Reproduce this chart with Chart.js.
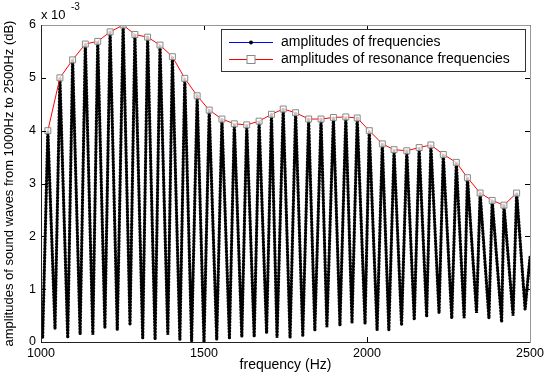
<!DOCTYPE html>
<html>
<head>
<meta charset="utf-8">
<script src="https://cdn.jsdelivr.net/npm/chart.js@4/dist/chart.umd.min.js"></script>
<style>
  html, body { margin: 0; padding: 0; background: #fff; }
</style>
</head>
<body>
<canvas id="myChart" width="550" height="379"></canvas>
<script>
// amplitudes are in units of 1e-3 (axis shows "x 10^-3")
// resonance peaks
const peakFreq = [1021, 1058, 1097, 1136, 1174, 1212, 1252, 1288, 1327, 1365,
                  1403, 1441, 1479, 1516, 1555, 1593, 1631, 1669, 1707, 1743,
                  1781, 1821, 1859, 1897, 1935, 1970, 2007, 2047, 2083, 2122,
                  2160, 2196, 2234, 2274, 2308, 2347, 2384, 2420, 2459];
const peakAmp = [4.00, 5.00, 5.34, 5.64, 5.69, 5.87, 6.00, 5.82, 5.77, 5.62,
                 5.40, 4.99, 4.66, 4.39, 4.22, 4.13, 4.11, 4.18, 4.31, 4.41,
                 4.34, 4.22, 4.22, 4.25, 4.26, 4.24, 4.00, 3.75, 3.64, 3.62,
                 3.68, 3.73, 3.55, 3.40, 3.11, 2.82, 2.68, 2.59, 2.82];
// dips between the peaks
const valleyFreq = [1005, 1043, 1082, 1120, 1159, 1196, 1234, 1273, 1312, 1350,
                    1389, 1426, 1462, 1500, 1539, 1578, 1616, 1654, 1692, 1724,
                    1764, 1803, 1840, 1877, 1917, 1954, 1994, 2031, 2067, 2106,
                    2145, 2183, 2221, 2260, 2298, 2336, 2374, 2413, 2448, 2485];
const valleyAmp = [0.08, 0.26, 0.08, 0.15, 0.14, 0.28, 0.23, 0.32, 0.08, 0.05,
                   0.14, 0.05, 0.02, 0.00, 0.05, 0.08, 0.10, 0.10, 0.17, 0.08,
                   0.08, 0.13, 0.23, 0.28, 0.32, 0.38, 0.35, 0.23, 0.23, 0.32,
                   0.42, 0.48, 0.55, 0.45, 0.45, 0.55, 0.45, 0.38, 0.50, 0.62];
const startFreq = 1000, startAmp = 0.45;
const endFreq = 2500, endAmp = 1.6;

const xTicks = [1000, 1500, 2000, 2500];
const yTicks = [0, 1, 2, 3, 4, 5, 6];

const freqPoints = [{x: startFreq, y: startAmp}];
valleyFreq.forEach((f, i) => {
    freqPoints.push({x: f, y: valleyAmp[i]});
    if (i < peakFreq.length) freqPoints.push({x: peakFreq[i], y: peakAmp[i]});
});
freqPoints.push({x: endFreq, y: endAmp});

const resPoints = peakFreq.map((f, i) => ({x: f, y: peakAmp[i]}));

const FONT = "'Liberation Sans', Arial, Helvetica, sans-serif";
Chart.defaults.font.family = FONT;
Chart.defaults.color = '#000';

// MATLAB style box, inward ticks, exponent label and legend
const matlabAxes = {
    id: 'matlabAxes',
    afterDraw(chart) {
        const {ctx, chartArea: a, scales} = chart;
        ctx.save();
        // inward ticks
        ctx.strokeStyle = '#000';
        ctx.lineWidth = 1;
        ctx.beginPath();
        xTicks.forEach(v => {
            const px = Math.round(scales.x.getPixelForValue(v)) + 0.5;
            ctx.moveTo(px, a.bottom); ctx.lineTo(px, a.bottom - 5);
            ctx.moveTo(px, a.top); ctx.lineTo(px, a.top + 5);
        });
        yTicks.forEach(v => {
            const py = Math.round(scales.y.getPixelForValue(v)) + 0.5;
            ctx.moveTo(a.left, py); ctx.lineTo(a.left + 5, py);
            ctx.moveTo(a.right, py); ctx.lineTo(a.right - 5, py);
        });
        ctx.stroke();
        // box
        ctx.strokeStyle = '#999';
        ctx.beginPath();
        ctx.moveTo(a.left, a.top + 0.5); ctx.lineTo(a.right + 0.5, a.top + 0.5);
        ctx.lineTo(a.right + 0.5, a.bottom);
        ctx.stroke();
        ctx.strokeStyle = '#222';
        ctx.beginPath();
        ctx.moveTo(a.left + 0.5, a.top); ctx.lineTo(a.left + 0.5, a.bottom + 0.5);
        ctx.lineTo(a.right + 0.5, a.bottom + 0.5);
        ctx.stroke();

        // exponent
        ctx.fillStyle = '#000';
        ctx.textBaseline = 'alphabetic';
        ctx.textAlign = 'left';
        ctx.font = '13px ' + FONT;
        ctx.fillText('x 10', a.left, 19);
        ctx.font = '10px ' + FONT;
        ctx.fillText('-3', a.left + 30, 10);

        // legend
        const lw = 304, lh = 42;
        const lx = a.right - 5 - lw, ly = a.top + 4;
        ctx.fillStyle = '#fff';
        ctx.fillRect(lx, ly, lw, lh);
        ctx.strokeStyle = '#333';
        ctx.strokeRect(lx + 0.5, ly + 0.5, lw, lh);
        const rows = [ly + 13, ly + 30];
        const ds = chart.data.datasets;
        const entries = [ds[1], ds[0]];
        entries.forEach((d, i) => {
            const y = rows[i] + 0.5;
            ctx.strokeStyle = i === 0 ? '#0000ff' : '#ff0000';
            ctx.beginPath();
            ctx.moveTo(lx + 8, y); ctx.lineTo(lx + 52, y);
            ctx.stroke();
            if (i === 0) {
                ctx.fillStyle = '#000';
                ctx.beginPath();
                ctx.arc(lx + 30, y, 2, 0, Math.PI * 2);
                ctx.fill();
            } else {
                ctx.fillStyle = '#fff';
                ctx.fillRect(lx + 26, y - 4, 8, 8);
                ctx.strokeStyle = '#888';
                ctx.strokeRect(lx + 26, y - 4, 8, 8);
            }
            ctx.fillStyle = '#000';
            ctx.font = '14px ' + FONT;
            ctx.textBaseline = 'middle';
            ctx.fillText(d.label, lx + 60, rows[i]);
        });
        ctx.restore();
    }
};

new Chart(document.getElementById('myChart'), {
    type: 'line',
    data: {
        datasets: [
            {
                label: 'amplitudes of resonance frequencies',
                data: resPoints,
                borderColor: '#ff0000',
                borderWidth: 1,
                pointStyle: 'rect',
                pointRadius: 4.2,
                pointBorderColor: '#888',
                pointBorderWidth: 1,
                pointBackgroundColor: 'rgba(255,255,255,0.75)',
                order: 0
            },
            {
                label: 'amplitudes of frequencies',
                data: freqPoints,
                borderColor: '#000',
                borderWidth: 3.2,
                borderDash: [0.5, 2.6],
                borderCapStyle: 'round',
                pointRadius: 0,
                order: 1
            },
            {
                label: 'line',
                data: freqPoints,
                borderColor: '#3030ff',
                borderWidth: 1,
                pointRadius: 0,
                order: 2
            }
        ]
    },
    options: {
        responsive: false,
        devicePixelRatio: 1,
        animation: false,
        layout: { padding: { left: 0, right: 20, top: 25, bottom: 0 } },
        plugins: {
            legend: { display: false },
            tooltip: { enabled: false }
        },
        scales: {
            x: {
                type: 'linear',
                min: 1000,
                max: 2500,
                afterBuildTicks: s => { s.ticks = xTicks.map(v => ({value: v})); },
                afterFit: s => { s.height = 37; },
                grid: { display: false, drawTicks: false },
                border: { display: false },
                ticks: { font: { size: 12.5 }, padding: 4, maxRotation: 0, color: '#000', callback: v => String(v) },
                title: { display: true, text: 'frequency (Hz)', font: { size: 14 }, padding: { top: 0, bottom: 5 }, color: '#000' }
            },
            y: {
                min: 0,
                max: 6,
                afterBuildTicks: s => { s.ticks = yTicks.map(v => ({value: v})); },
                afterFit: s => { s.width = 41; },
                grid: { display: false, drawTicks: false },
                border: { display: false },
                ticks: { font: { size: 12.5 }, padding: 5, color: '#000', callback: v => String(v) },
                title: { display: true, text: 'amplitudes of sound waves from 1000Hz to 2500Hz (dB)', font: { size: 13 }, padding: { top: 2, bottom: 0 }, color: '#000' }
            }
        }
    },
    plugins: [matlabAxes]
});
</script>
</body>
</html>
